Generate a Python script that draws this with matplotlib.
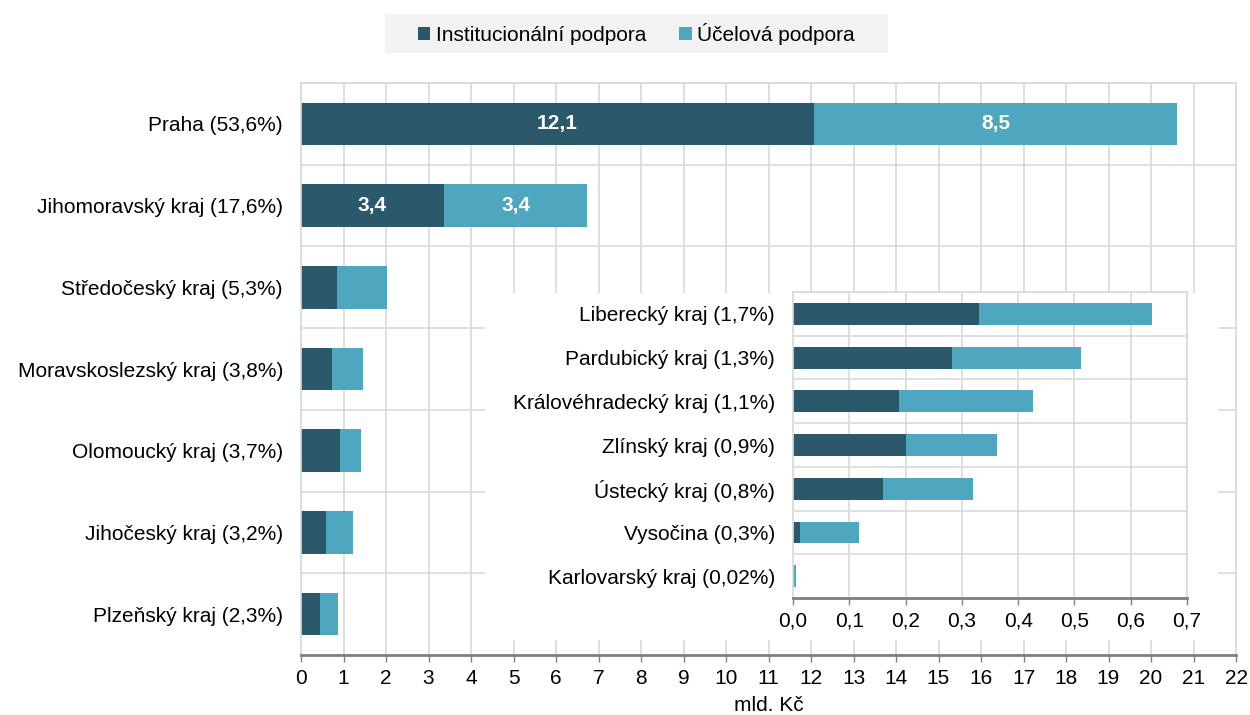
import matplotlib.pyplot as plt
from matplotlib.patches import Rectangle

plt.rcParams['font.family'] = ['Liberation Sans', 'DejaVu Sans']
plt.rcParams['font.size'] = 15

# main chart (mld. Kč)
regions = ['Praha (53,6%)', 'Jihomoravský kraj (17,6%)', 'Středočeský kraj (5,3%)',
           'Moravskoslezský kraj (3,8%)', 'Olomoucký kraj (3,7%)', 'Jihočeský kraj (3,2%)',
           'Plzeňský kraj (2,3%)']
inst = [12.07, 3.36, 0.84, 0.73, 0.92, 0.58, 0.45]
ucel = [8.54, 3.38, 1.19, 0.72, 0.49, 0.65, 0.41]

# inset (small regions)
regions_small = ['Liberecký kraj (1,7%)', 'Pardubický kraj (1,3%)', 'Královéhradecký kraj (1,1%)',
                 'Zlínský kraj (0,9%)', 'Ústecký kraj (0,8%)', 'Vysočina (0,3%)',
                 'Karlovarský kraj (0,02%)']
inst_small = [0.331, 0.282, 0.189, 0.200, 0.160, 0.013, 0.0]
ucel_small = [0.306, 0.230, 0.238, 0.162, 0.159, 0.105, 0.005]

labelled = ['Praha (53,6%)', 'Jihomoravský kraj (17,6%)']

c_inst = '#2C586B'
c_ucel = '#4FA6BF'
grid_c = '#D9D9D9'
axis_c = '#808080'


def style_axes(ax, n, xmax):
    ax.set_xlim(0, xmax)
    ax.set_ylim(n - 0.5, -0.5)
    ax.set_axisbelow(True)
    ax.grid(axis='x', color=grid_c, linewidth=1.2)
    for b in range(n + 1):
        ax.axhline(b - 0.5, color=grid_c, linewidth=1.2, zorder=0.5)
    for s in ['top', 'right', 'left']:
        ax.spines[s].set_color(grid_c)
        ax.spines[s].set_linewidth(1.2)
    ax.spines['bottom'].set_color(axis_c)
    ax.spines['bottom'].set_linewidth(2)
    ax.tick_params(axis='y', length=0, pad=13)
    ax.tick_params(axis='x', direction='out', length=5, color=axis_c, width=1, pad=5)


fig = plt.figure(figsize=(12.5, 7.15), dpi=100)
ax = fig.add_axes([0.2408, 0.0839, 0.7480, 0.8000])

y = range(len(regions))
b1 = ax.barh(y, inst, height=0.52, color=c_inst, label='Institucionální podpora')
b2 = ax.barh(y, ucel, left=inst, height=0.52, color=c_ucel, label='Účelová podpora')
ax.set_yticks(list(y))
ax.set_yticklabels(regions)
ax.set_xticks(range(0, 23))
style_axes(ax, len(regions), 22)
ax.set_xlabel('mld. Kč', labelpad=6)

for i, r in enumerate(regions):
    if r in labelled:
        ax.text(inst[i] / 2, i, f'{inst[i]:.1f}'.replace('.', ','), ha='center', va='center',
                color='white', fontweight='bold', fontsize=15)
        ax.text(inst[i] + ucel[i] / 2, i, f'{ucel[i]:.1f}'.replace('.', ','), ha='center',
                va='center', color='white', fontweight='bold', fontsize=15)

# white patch behind the inset
fig.add_artist(Rectangle((0.388, 0.105), 0.586, 0.4853, transform=fig.transFigure,
                         facecolor='white', edgecolor='none', zorder=1))

ax2 = fig.add_axes([0.6344, 0.1636, 0.3152, 0.4280])
ax2.set_zorder(2)
ys = range(len(regions_small))
ax2.barh(ys, inst_small, height=0.5, color=c_inst)
ax2.barh(ys, ucel_small, left=inst_small, height=0.5, color=c_ucel)
ax2.set_yticks(list(ys))
ax2.set_yticklabels(regions_small)
ticks = [i / 10 for i in range(8)]
ax2.set_xticks(ticks)
ax2.set_xticklabels([f'{t:.1f}'.replace('.', ',') for t in ticks])
style_axes(ax2, len(regions_small), 0.7)

# legend background box
fig.add_artist(Rectangle((0.308, 0.9259), 0.4024, 0.0545, transform=fig.transFigure,
                         facecolor='#F2F2F2', edgecolor='none', zorder=1))
leg = fig.legend(handles=[b1, b2], loc='center', bbox_to_anchor=(0.509, 0.953), ncol=2,
                 frameon=False, handlelength=0.6, handleheight=0.6,
                 handletextpad=0.25, columnspacing=1.6, fontsize=15)
leg.set_zorder(3)

fig.savefig('out.png', dpi=100)
